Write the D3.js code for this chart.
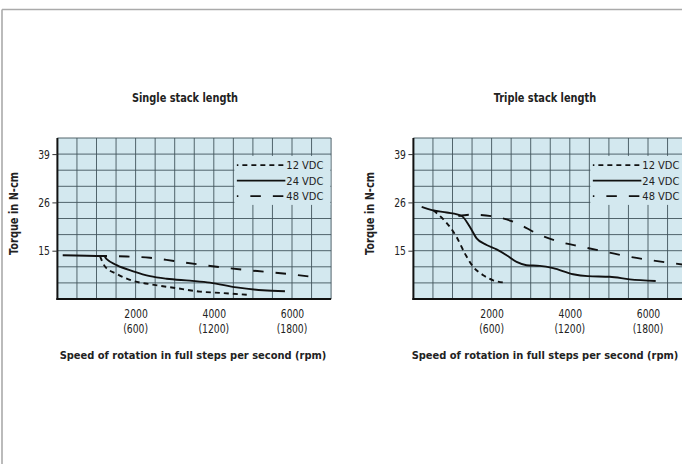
<!DOCTYPE html>
<html>
<head>
<meta charset="utf-8">
<script src="https://cdn.jsdelivr.net/npm/d3@7"></script>
<style>
  body { margin: 0; background: #fff; }
  text { font-family: "Liberation Sans Narrow", "DejaVu Sans Condensed", sans-serif; fill: #222; }
  .boldText, .axisTitle { font-weight: bold; }
</style>
</head>
<body>
<div id="chart"></div>
<script>
// Tick labels
var xTickValues = [2000, 4000, 6000];
var xTickRpm = ["(600)", "(1200)", "(1800)"];
var yTickValues = [15, 26, 39];
var legendLabels = ["12 VDC", "24 VDC", "48 VDC"];

// Single stack length: [steps per second, torque N-cm]
var single12 = [[1089, 13.3], [1217, 10.1], [1516, 7.8], [1941, 5.6], [2368, 4.6], [3084, 3.3], [3646, 2.3], [4157, 1.9], [4873, 1.3]];
var single24 = [[136, 13.6], [1190, 13.3], [1260, 12.4], [1516, 10.5], [1940, 8.6], [2368, 7.1], [2795, 6.3], [3390, 5.7], [3902, 5.1], [4584, 3.6], [5257, 2.7], [5820, 2.4]];
var single48 = [[1000, 13.4], [1780, 13.2], [2368, 12.8], [2981, 11.8], [3570, 10.8], [4157, 9.9], [4745, 9.1], [5359, 8.4], [5947, 7.7], [6510, 6.9]];

// Triple stack length
var triple12 = [[508, 24.2], [680, 22.9], [935, 20.4], [1106, 18.1], [1318, 14.1], [1530, 10.0], [1786, 7.4], [2041, 5.8], [2340, 5.1]];
var triple24 = [[212, 25.0], [508, 24.2], [851, 23.7], [1234, 22.9], [1446, 20.4], [1617, 17.8], [1872, 16.3], [2128, 15.3], [2383, 13.6], [2639, 11.5], [2894, 10.5], [3233, 10.3], [3573, 9.6], [4084, 7.7], [4460, 7.1], [5022, 6.9], [5533, 6.1], [6197, 5.6]];
var triple48 = [[1150, 22.9], [1475, 23.2], [2110, 22.7], [2639, 21.3], [3182, 18.8], [3744, 17.0], [4305, 15.9], [4944, 14.6], [5532, 13.1], [6094, 12.0], [6707, 11.0], [7000, 10.5]];

var svgWidth = 682;
var svgHeight = 464;

var svg = d3.select("#chart")
    .append("svg")
    .attr("width", svgWidth)
    .attr("height", svgHeight);

// outer frame (top and left edges only)
svg.append("line")
    .attr("x1", 2).attr("y1", 9.5).attr("x2", svgWidth).attr("y2", 9.5)
    .attr("stroke", "#aaa").attr("stroke-width", 1.6);
svg.append("line")
    .attr("x1", 2).attr("y1", 9.5).attr("x2", 2).attr("y2", svgHeight)
    .attr("stroke", "#aaa").attr("stroke-width", 1.6);

var lineStyles = [
    { dash: "5,4", offset: 3.5 },
    { dash: null, offset: 0 },
    { dash: "10.5,12", offset: 9 }
];

// squeeze text horizontally, the original uses a narrow face
function condense(sel, factor) {
    sel.each(function() {
        var w = this.getComputedTextLength();
        d3.select(this)
            .attr("textLength", w * factor)
            .attr("lengthAdjust", "spacingAndGlyphs");
    });
}

function drawPanel(opts) {
    var width = 273.7;
    var height = 161;

    var g = svg.append("g")
        .attr("transform", `translate(${opts.left}, ${opts.top})`);

    var xScale = d3.scaleLinear()
        .domain([0, 7000])
        .range([0, width]);

    // torque axis is spaced unevenly: 0-15-26-39 on 3 grid rows each
    var yScale = d3.scaleLinear()
        .domain([0, 15, 26, 39, 39 + 13 / 3])
        .range([height, height * 0.7, height * 0.4, height * 0.1, 0]);

    // plot background
    g.append("rect")
        .attr("width", width)
        .attr("height", height)
        .attr("fill", "#d3e8ef");

    // grid
    g.selectAll(".vgrid")
        .data(d3.range(500, 7001, 500))
        .enter()
        .append("line")
        .attr("x1", d => xScale(d)).attr("x2", d => xScale(d))
        .attr("y1", 0).attr("y2", height)
        .attr("stroke", "#42555c").attr("stroke-width", 0.9);

    g.selectAll(".hgrid")
        .data(d3.range(1, 11).map(i => yScale.invert(i * height / 10 - height / 10)))
        .enter()
        .append("line")
        .attr("x1", 0).attr("x2", width)
        .attr("y1", d => yScale(d)).attr("y2", d => yScale(d))
        .attr("stroke", "#42555c").attr("stroke-width", 0.9);

    // legend box hides grid
    var boxX = xScale(4500) + 1;
    g.append("rect")
        .attr("x", boxX)
        .attr("y", yScale(39) + 1.8)
        .attr("width", xScale(7000) - boxX - 0.8)
        .attr("height", 49)
        .attr("fill", "#d3e8ef");

    // data lines
    var line = d3.line()
        .x(d => xScale(d[0]))
        .y(d => yScale(d[1]))
        .curve(d3.curveMonotoneX);

    opts.series.forEach(function(s, i) {
        g.append("path")
            .datum(s)
            .attr("d", line)
            .attr("fill", "none")
            .attr("stroke", "#111")
            .attr("stroke-width", 1.9)
            .attr("stroke-dasharray", lineStyles[i].dash);
    });

    // legend
    var legendY = [yScale(39) + 11, yScale(39) + 26.5, yScale(39) + 42];
    legendLabels.forEach(function(label, i) {
        g.append("line")
            .attr("x1", boxX + 2.5).attr("x2", boxX + 51)
            .attr("y1", legendY[i]).attr("y2", legendY[i])
            .attr("stroke", "#111")
            .attr("stroke-width", 1.9)
            .attr("stroke-dasharray", lineStyles[i].dash)
            .attr("stroke-dashoffset", lineStyles[i].offset);
        g.append("text")
            .attr("x", boxX + 52)
            .attr("y", legendY[i])
            .attr("dy", "0.36em")
            .attr("font-size", "11px")
            .text(label);
    });

    // axes lines
    g.append("line")
        .attr("x1", 0).attr("x2", 0).attr("y1", 0).attr("y2", height + 1)
        .attr("stroke", "#111").attr("stroke-width", 2);
    g.append("line")
        .attr("x1", -1).attr("x2", width).attr("y1", height).attr("y2", height)
        .attr("stroke", "#111").attr("stroke-width", 2);

    // y axis ticks
    var leftAxis = d3.axisLeft(yScale)
        .tickValues(yTickValues)
        .tickSize(5)
        .tickPadding(2.5);
    var yAxisG = g.append("g").call(leftAxis);
    yAxisG.select(".domain").remove();
    yAxisG.selectAll("line").attr("stroke", "#333");
    yAxisG.selectAll("text")
        .attr("class", "condensed")
        .attr("font-size", "12.5px")
        .attr("font-family", null)
        .attr("fill", "#222");

    // x axis labels
    var bottomAxis = d3.axisBottom(xScale)
        .tickValues(xTickValues)
        .tickFormat(d3.format("d"))
        .tickSize(0)
        .tickPadding(10);
    var xAxisG = g.append("g")
        .attr("transform", `translate(0, ${height})`)
        .call(bottomAxis);
    xAxisG.select(".domain").remove();
    xAxisG.selectAll("text")
        .attr("class", "condensed")
        .attr("font-size", "12.5px")
        .attr("font-family", null)
        .attr("fill", "#222");

    g.selectAll(".rpmText")
        .data(xTickValues)
        .enter()
        .append("text")
        .attr("class", "condensed")
        .attr("x", d => xScale(d))
        .attr("y", height + 33.5)
        .attr("text-anchor", "middle")
        .attr("font-size", "12.5px")
        .text((d, i) => xTickRpm[i]);

    // titles
    svg.append("text")
        .attr("class", "boldText")
        .attr("x", opts.titleX)
        .attr("y", 101.5)
        .attr("text-anchor", "middle")
        .attr("font-size", "12.5px")
        .text(opts.title);

    g.append("text")
        .attr("class", "boldText")
        .attr("transform", "rotate(-90)")
        .attr("x", -(height / 2) + 5)
        .attr("y", -44)
        .attr("dy", "0.36em")
        .attr("text-anchor", "middle")
        .attr("font-size", "12.5px")
        .text("Torque in N-cm");

    svg.append("text")
        .attr("class", "axisTitle")
        .attr("x", opts.labelX)
        .attr("y", opts.top + height + 60)
        .attr("text-anchor", "middle")
        .attr("font-size", "11px")
        .text("Speed of rotation in full steps per second (rpm)");
}

drawPanel({ left: 57.4, top: 138, title: "Single stack length", titleX: 185, labelX: 193, series: [single12, single24, single48] });
drawPanel({ left: 413.4, top: 138, title: "Triple stack length", titleX: 545, labelX: 545, series: [triple12, triple24, triple48] });

condense(svg.selectAll("text.condensed"), 0.82);
condense(svg.selectAll("text.boldText"), 0.87);
</script>
</body>
</html>
